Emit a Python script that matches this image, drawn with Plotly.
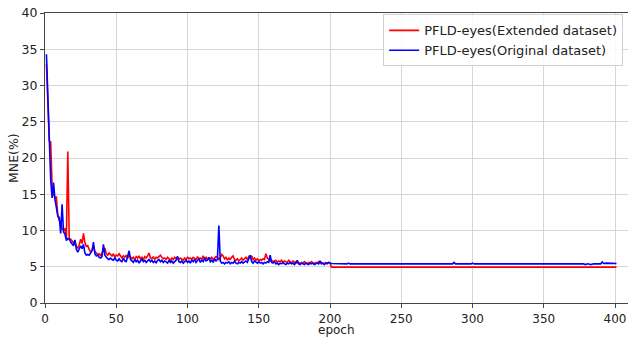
import plotly.graph_objects as go

# ---- data ----
epochs_main = list(range(1, 201))

extended_main = [
    33.0, 27.5, 22.3, 22.2, 16.0, 15.0, 14.5, 14.6, 12.0, 11.4,
    11.2, 10.2, 10.1, 10.2, 9.0, 20.9, 8.9, 8.8, 8.6, 8.3,
    8.5, 7.8, 7.6, 8.0, 8.8, 8.2, 9.6, 8.3, 7.8, 7.9,
    7.4, 7.0, 7.3, 7.8, 7.1, 6.9, 6.7, 6.8, 6.5, 6.9,
    7.2, 7.6, 6.8, 6.6, 6.9, 6.7, 6.5, 6.8, 6.3, 6.6,
    6.5, 6.8, 6.4, 6.2, 6.5, 6.3, 6.6, 6.2, 6.6, 6.4,
    6.1, 6.3, 6.0, 6.4, 6.2, 6.5, 6.1, 6.3, 6.0, 6.4,
    6.2, 6.5, 6.9, 6.2, 6.1, 6.4, 6.0, 6.3, 6.2, 6.4,
    6.6, 6.3, 6.1, 6.2, 6.0, 6.3, 6.1, 5.9, 6.2, 6.0,
    6.3, 6.1, 6.4, 6.0, 6.2, 6.1, 5.9, 6.2, 6.0, 6.3,
    6.1, 6.2, 6.0, 6.3, 6.1, 6.0, 6.4, 6.1, 6.2, 6.0,
    6.5, 6.1, 6.3, 6.0, 6.2, 6.1, 6.3, 6.0, 6.2, 6.4,
    6.3, 6.0, 6.2, 6.7, 6.5, 6.1, 6.3, 5.9, 6.2, 6.0,
    6.3, 6.5, 6.0, 5.9, 6.1, 5.8, 6.0, 6.2, 5.9, 6.1,
    6.3, 6.0, 6.4, 6.2, 6.5, 6.0, 6.2, 5.9, 6.1, 5.8,
    6.0, 5.9, 6.1, 6.0, 6.8, 6.2, 6.0, 5.8, 5.9, 5.7,
    5.8, 5.9, 5.6, 5.8, 5.7, 5.9, 5.6, 5.8, 5.7, 5.6,
    5.9, 5.7, 5.5, 5.8, 5.6, 5.7, 5.5, 5.6, 5.4, 5.6,
    5.5, 5.7, 5.5, 5.4, 5.6, 5.5, 5.7, 5.5, 5.4, 5.6,
    5.5, 5.7, 5.5, 5.6, 5.5, 5.4, 5.6, 5.5, 5.6, 5.5,
]

original_main = [
    34.3, 29.0, 22.0, 17.0, 14.5, 16.6, 14.3, 12.8, 12.0, 11.8,
    9.6, 13.6, 9.8, 9.5, 8.6, 8.9, 8.8, 8.4, 8.1, 7.9,
    8.7, 7.4, 7.0, 7.6, 7.9, 7.5, 8.1, 6.9, 6.6, 6.7,
    6.6, 6.9, 7.2, 8.4, 6.8, 6.5, 6.6, 6.3, 6.2, 6.4,
    8.1, 6.6, 6.3, 6.1, 6.0, 6.2, 6.0, 5.9, 6.2, 5.9,
    5.8, 6.1, 5.8, 5.7, 6.2, 5.8, 5.7, 6.3, 7.2, 6.0,
    5.8, 5.6, 6.0, 5.7, 5.9, 5.5, 5.8, 6.1, 5.7, 5.9,
    5.6, 5.8, 6.0, 5.7, 5.9, 5.6, 5.8, 5.5, 5.9, 6.0,
    5.7, 5.9, 5.6, 5.8, 5.7, 5.5, 5.9, 5.6, 5.8, 5.5,
    5.7, 5.9, 6.4, 5.7, 5.6, 5.8, 5.5, 5.7, 5.9, 5.6,
    5.8, 5.5, 5.9, 5.7, 6.0, 5.6, 5.8, 6.1, 5.6, 5.9,
    5.7, 6.2, 5.8, 5.9, 6.3, 5.7, 5.9, 5.6, 6.1, 5.8,
    6.0, 10.7, 5.8, 5.5, 5.6, 5.4, 5.6, 5.5, 5.7, 5.4,
    5.6, 5.5, 5.8, 5.5, 5.4, 5.6, 5.5, 5.7, 5.5, 5.6,
    5.8, 5.6, 6.0, 6.6, 5.7, 5.5, 5.8, 5.6, 5.5, 5.7,
    5.5, 5.6, 5.4, 5.6, 5.5, 5.7, 5.6, 6.6, 5.6, 5.5,
    5.7, 5.4, 5.5, 5.3, 5.5, 5.4, 5.6, 5.4, 5.3, 5.5,
    5.4, 5.6, 5.4, 5.5, 5.3, 5.5, 5.9, 5.4, 5.3, 5.5,
    5.4, 5.3, 5.5, 5.4, 5.3, 5.5, 5.4, 5.5, 5.3, 5.4,
    5.5, 5.4, 5.8, 5.4, 5.5, 5.3, 5.5, 5.4, 5.6, 5.5,
]

extended_tail_epochs = [201, 210, 225, 240, 255, 270, 285, 300, 320, 340, 360, 380, 401]
extended_tail = [4.95, 4.95, 4.97, 4.98, 5.0, 5.03, 5.03, 5.0, 4.98, 4.97, 4.95, 4.95, 4.95]

original_tail_epochs = [201, 212, 213, 214, 240, 262, 263, 264, 286, 287, 288, 299, 300, 301,
                        350, 351, 352, 361, 362, 363, 378, 379, 381, 383, 385, 390, 391, 392, 394, 401]
original_tail = [5.45, 5.4, 5.5, 5.4, 5.4, 5.4, 5.5, 5.4, 5.4, 5.6, 5.4, 5.4, 5.5, 5.4,
                 5.4, 5.5, 5.4, 5.4, 5.5, 5.4, 5.4, 5.3, 5.4, 5.3, 5.4, 5.4, 5.65, 5.45, 5.5, 5.45]

x_ticks = [0, 50, 100, 150, 200, 250, 300, 350, 400]
y_ticks = [0, 5, 10, 15, 20, 25, 30, 35, 40]

FONT = "DejaVu Sans"
AXC = "#444444"
TXT = "#222222"

fig = go.Figure()
fig.add_trace(go.Scatter(
    x=epochs_main + extended_tail_epochs, y=extended_main + extended_tail,
    mode="lines", line=dict(color="#ff0000", width=1.6),
    name="PFLD-eyes(Extended dataset)"))
fig.add_trace(go.Scatter(
    x=epochs_main + original_tail_epochs, y=original_main + original_tail,
    mode="lines", line=dict(color="#0000ff", width=1.6),
    name="PFLD-eyes(Original dataset)"))

fig.update_layout(
    width=628, height=337,
    margin=dict(l=45, r=0, t=13, b=34, autoexpand=False),
    paper_bgcolor="white", plot_bgcolor="white",
    font=dict(family=FONT, size=12.5, color=TXT),
    showlegend=True,
    legend=dict(
        x=0.58, y=0.995, xanchor="left", yanchor="top",
        bgcolor="rgba(255,255,255,0.85)", bordercolor="#d0d0d0", borderwidth=1,
        font=dict(family=FONT, size=13, color=TXT),
        tracegroupgap=0,
    ),
    xaxis=dict(
        range=[0, 409.1], tickvals=x_ticks, ticktext=[str(v) for v in x_ticks],
        showgrid=True, gridcolor="#d6d6d6", gridwidth=1,
        showline=True, linecolor=AXC, linewidth=1.2, mirror=True,
        ticks="outside", ticklen=4, tickcolor=AXC,
        tickfont=dict(size=12), zeroline=False, automargin=False,
    ),
    yaxis=dict(
        range=[0, 40], tickvals=y_ticks, ticktext=[str(v) for v in y_ticks],
        showgrid=True, gridcolor="#d6d6d6", gridwidth=1,
        showline=True, linecolor=AXC, linewidth=1.2,
        ticks="outside", ticklen=4, tickcolor=AXC,
        tickfont=dict(size=12.5), zeroline=False, automargin=False,
    ),
    annotations=[
        dict(text="epoch", xref="paper", yref="paper", x=0.5, y=0,
             xanchor="center", yanchor="top", yshift=-18, showarrow=False,
             font=dict(size=12, color=TXT)),
        dict(text="MNE(%)", xref="paper", yref="paper", x=0, y=0.5,
             xanchor="center", yanchor="middle", xshift=-32, textangle=-90,
             showarrow=False, font=dict(size=12.5, color=TXT)),
    ],
)

# remove the default 8px page margin so the figure sits at the window's corner
fig.write_html("out.html", config={"displayModeBar": False},
               post_script="document.body.style.margin='0';")
